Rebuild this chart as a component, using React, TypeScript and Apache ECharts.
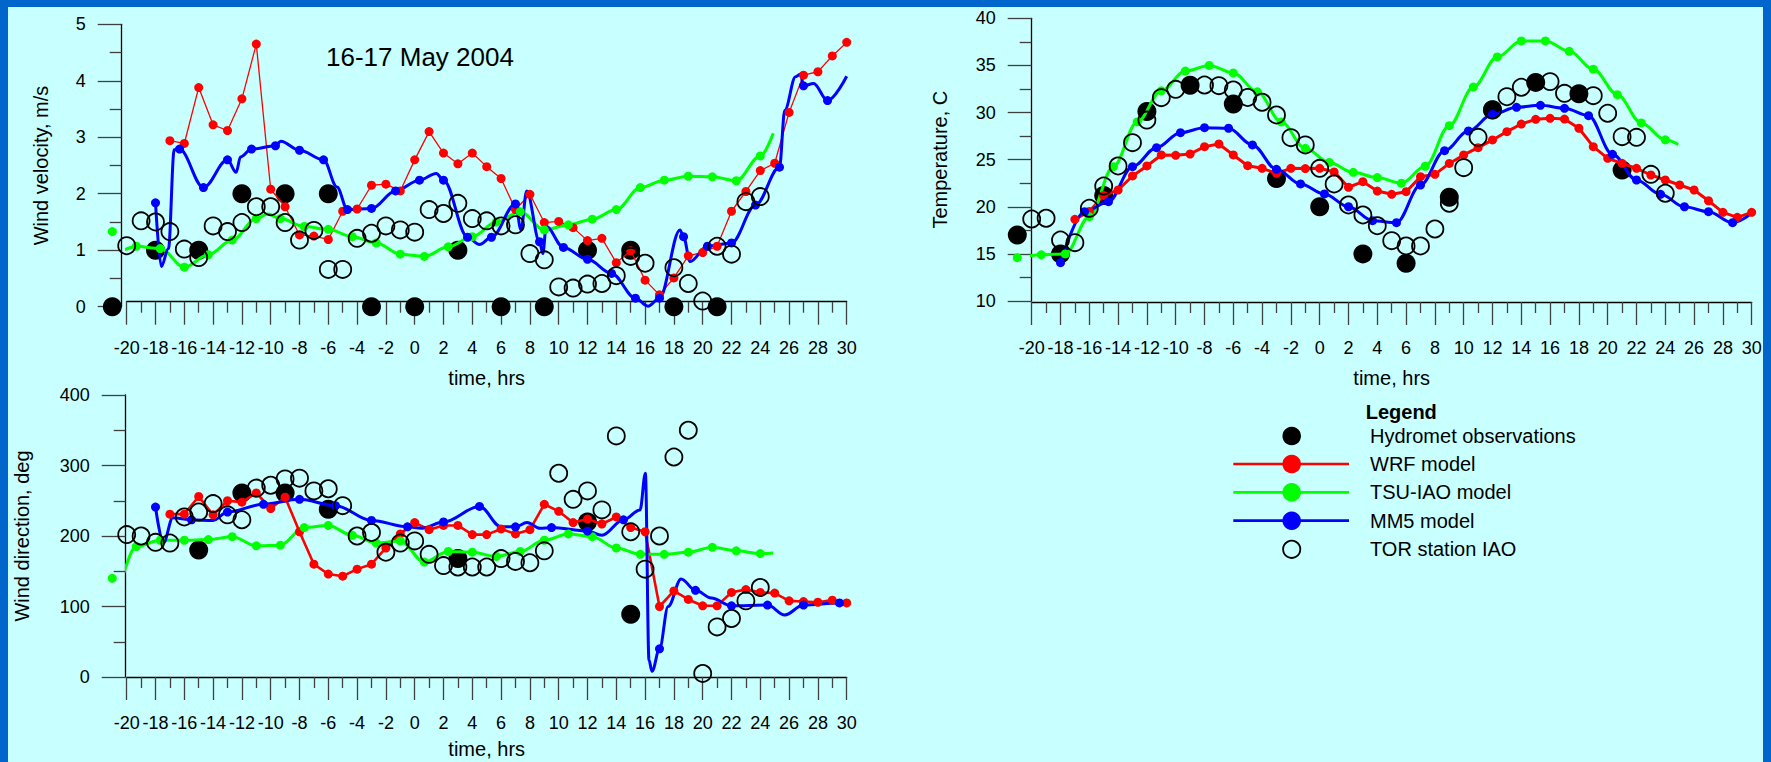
import React, { useEffect, useRef } from 'react';
import * as echarts from 'echarts';

// ---------------- Panel 1: wind velocity, m/s ----------------
const windHydromet = [[-21, 0], [-18, 1], [-15, 1], [-12, 2], [-9, 2], [-6, 2], [-3, 0], [0, 0], [3, 1], [6, 0], [9, 0], [12, 1], [15, 1], [18, 0], [21, 0]];
const windTor = [[-20, 1.08], [-19, 1.52], [-18, 1.5], [-17, 1.33], [-16, 1.02], [-15, 0.87], [-14, 1.43], [-13, 1.33], [-12, 1.49], [-11, 1.77], [-10, 1.77], [-9, 1.49], [-8, 1.18], [-7, 1.35], [-6, 0.66], [-5, 0.66], [-4, 1.21], [-3, 1.3], [-2, 1.43], [-1, 1.36], [0, 1.32], [1, 1.72], [2, 1.65], [3, 1.83], [4, 1.56], [5, 1.52], [6, 1.43], [7, 1.45], [8, 0.94], [9, 0.83], [10, 0.35], [11, 0.33], [12, 0.4], [13, 0.41], [14, 0.55], [15, 0.89], [16, 0.77], [18, 0.69], [19, 0.41], [20, 0.1], [21, 1.07], [22, 0.93], [23, 1.86], [24, 1.95]];
const windWrf = [[-17, 2.94], [-16, 2.89], [-15, 3.88], [-14, 3.22], [-13, 3.12], [-12, 3.68], [-11, 4.65], [-10, 2.08], [-9, 1.77], [-8, 1.27], [-7, 1.25], [-6, 1.19], [-5, 1.69], [-4, 1.73], [-3, 2.15], [-2, 2.17], [-1, 2.05], [0, 2.6], [1, 3.1], [2, 2.72], [3, 2.53], [4, 2.72], [5, 2.48], [6, 2.27], [7, 1.72], [8, 1.99], [9, 1.49], [10, 1.51], [11, 1.4], [12, 1.17], [13, 1.21], [14, 0.78], [15, 0.99], [16, 0.47], [17, 0.21], [18, 0.51], [19, 0.9], [20, 0.96], [21, 1.07], [22, 1.69], [23, 2.04], [24, 2.41], [25, 2.54], [26, 3.44], [27, 4.1], [28, 4.16], [29, 4.44], [30, 4.68]];
const windTsuMarked = [[-21, 1.33], [-19.33, 1.07], [-17.67, 1.03], [-16, 0.7], [-14.33, 0.92], [-12.67, 1.18], [-11, 1.56], [-9.33, 1.56], [-7.67, 1.42], [-6, 1.37], [-4.33, 1.24], [-2.67, 1.13], [-1, 0.93], [0.67, 0.89], [2.33, 1.06], [4, 1.24], [5.67, 1.5], [7.33, 1.68], [9, 1.36], [10.67, 1.45], [12.33, 1.55], [14, 1.72], [15.67, 2.11], [17.33, 2.24], [19, 2.31], [20.67, 2.3], [22.33, 2.23], [24, 2.67]];
const windTsuShape = [[-20.4, 1.0], [-10.2, 1.64], [24.9, 3.07]];
const windMm5Marked = [[-18, 1.84], [-16.33, 2.79], [-14.67, 2.11], [-13, 2.6], [-11.33, 2.79], [-9.67, 2.85], [-8, 2.77], [-6.33, 2.6], [-4.67, 1.72], [-3, 1.74], [-1.33, 2.05], [0.33, 2.24], [2, 2.24], [3.67, 1.23], [5.33, 1.23], [7, 1.82], [8.67, 1.15], [10.33, 1.05], [12, 0.84], [13.67, 0.59], [15.33, 0.15], [17, 0.15], [18.67, 1.24], [20.33, 1.07], [22, 1.13], [23.67, 1.8], [25.33, 2.47], [27, 3.91], [28.67, 3.65]];
const windMm5Shape = [[-17.6, 0.71], [-17.1, 1.03], [-16.7, 2.78], [-12.4, 2.38], [-12.1, 2.65], [-9.3, 2.93], [-5.4, 2.12], [1.5, 2.36], [4.5, 1.1], [7.38, 1.36], [7.78, 2.05], [8.9, 0.94], [9.13, 1.42], [16.2, 0.01], [18.42, 1.36], [19.12, 0.8], [25.7, 3.48], [26.45, 4.07], [26.8, 4.12], [27.7, 3.95], [30, 4.08]];

// ---------------- Panel 2: temperature, C ----------------
const tempHydromet = [[-21, 17], [-18, 15], [-15, 21.2], [-12, 30.1], [-9, 32.9], [-6, 30.9], [-3, 23], [0, 20], [3, 15], [6, 14], [9, 21], [12, 30.3], [15, 33.2], [18, 32], [21, 23.9]];
const tempTor = [[-20, 18.7], [-19, 18.78], [-18, 16.47], [-17, 16.19], [-16, 19.84], [-15, 22.2], [-14, 24.33], [-13, 26.8], [-12, 29.2], [-11, 31.58], [-10, 32.46], [-8, 32.92], [-7, 32.85], [-6, 32.39], [-5, 31.6], [-4, 31.09], [-3, 29.74], [-2, 27.33], [-1, 26.56], [0, 24.08], [1, 22.42], [2, 20.19], [3, 19.13], [4, 17.99], [5, 16.4], [6, 15.84], [7, 15.84], [8, 17.64], [9, 20.37], [10, 24.15], [11, 27.37], [12, 30.27], [13, 31.68], [14, 32.68], [16, 33.28], [17, 32.04], [19, 31.79], [20, 29.92], [21, 27.44], [22, 27.37], [23, 23.44], [24, 21.43]];
const tempWrf = [[-17, 18.67], [-16, 19.5], [-15, 21.2], [-14, 21.78], [-13, 23.27], [-12, 24.33], [-11, 25.5], [-10, 25.46], [-9, 25.6], [-8, 26.38], [-7, 26.66], [-6, 25.5], [-5, 24.36], [-4, 24.08], [-3, 23.55], [-2, 24.08], [-1, 24.05], [0, 24.08], [1, 23.7], [2, 22.07], [3, 22.66], [4, 21.67], [5, 21.32], [6, 21.6], [7, 23.19], [8, 23.44], [9, 24.6], [10, 25.5], [11, 26.27], [12, 27.09], [13, 27.97], [14, 28.78], [15, 29.28], [16, 29.39], [17, 29.31], [18, 28.33], [19, 26.38], [20, 25.14], [21, 24.61], [22, 24.08], [23, 23.37], [24, 22.84], [25, 22.31], [26, 21.78], [27, 20.64], [28, 19.41], [29, 18.88], [30, 19.41]];
const tempTsuMarked = [[-21, 14.6], [-19.33, 14.9], [-17.67, 15.0], [-16, 18.95], [-14.33, 24.25], [-12.67, 29.0], [-11, 32.3], [-9.33, 34.4], [-7.67, 35.0], [-6, 34.2], [-4.33, 32.2], [-2.67, 29.0], [-1, 26.2], [0.67, 24.7], [2.33, 23.65], [4, 23.1], [5.67, 22.5], [7.33, 24.3], [9, 28.6], [10.67, 32.7], [12.33, 35.9], [14, 37.6], [15.67, 37.6], [17.33, 36.5], [19, 34.6], [20.67, 31.9], [22.33, 28.9], [24, 27.1]];
const tempTsuShape = [[24.9, 26.6]];
const tempMm5Marked = [[-18, 14.07], [-16.33, 19.48], [-14.67, 20.54], [-13, 24.25], [-11.33, 26.27], [-9.67, 27.86], [-8, 28.39], [-6.33, 28.33], [-4.67, 26.56], [-3, 23.97], [-1.33, 22.42], [0.33, 21.36], [2, 20.0], [3.67, 18.52], [5.33, 18.31], [7, 22.31], [8.67, 25.95], [10.33, 28.04], [12, 29.81], [13.67, 30.55], [15.33, 30.77], [17, 30.45], [18.67, 29.67], [20.33, 25.57], [22, 22.84], [23.67, 21.32], [25.33, 20.0], [27, 19.48], [28.67, 18.31]];
const tempMm5Shape = [[30, 19.3]];

// ---------------- Panel 3: wind direction, deg ----------------
const dirHydromet = [[-15, 180], [-12, 261], [-9, 261], [-6, 238], [3, 168], [12, 220], [15, 89]];
const dirTor = [[-20, 202], [-19, 200], [-18, 191], [-17, 190], [-16, 227], [-15, 234], [-14, 246], [-13, 230], [-12, 223], [-11, 268], [-10, 272], [-9, 281], [-8, 282], [-7, 264], [-6, 267], [-5, 243], [-4, 200], [-3, 205], [-2, 177], [-1, 190], [0, 193], [1, 174], [2, 158], [3, 156], [4, 156], [5, 156], [6, 168], [7, 164], [8, 162], [9, 179], [10, 289], [11, 252], [12, 264], [13, 237], [14, 342], [15, 206], [16, 153], [17, 200], [18, 312], [19, 350], [20, 5], [21, 71], [22, 83], [23, 108], [24, 127]];
const dirWrf = [[-17, 231], [-16, 231], [-15, 256], [-14, 230], [-13, 250], [-12, 248], [-11, 261], [-10, 239], [-9, 255], [-8, 206], [-7, 160], [-6, 146], [-5, 143], [-4, 153], [-3, 160], [-2, 183], [-1, 203], [0, 219], [1, 209], [2, 215], [3, 215], [4, 202], [5, 202], [6, 210], [7, 203], [8, 209], [9, 245], [10, 235], [11, 219], [12, 224], [13, 217], [14, 227], [15, 212], [16, 206], [17, 100], [18, 122], [19, 110], [20, 101], [21, 101], [22, 120], [23, 124], [24, 120], [25, 119], [26, 108], [27, 107], [28, 106], [29, 109], [30, 105]];
const dirTsuMarked = [[-21, 140], [-19.33, 185], [-17.67, 194], [-16, 194], [-14.33, 195], [-12.67, 199], [-11, 186], [-9.33, 187], [-7.67, 212], [-6, 215], [-4.33, 201], [-2.67, 190], [-1, 193], [0.67, 163], [2.33, 178], [4, 177], [5.67, 171], [7.33, 178], [9, 194], [10.67, 203], [12.33, 199], [14, 183], [15.67, 174], [17.33, 174], [19, 177], [20.67, 184], [22.33, 179], [24, 175]];
const dirTsuShape = [[-20.75, 130], [24.9, 176]];
const dirMm5Marked = [[-18, 241], [-15.5, 223], [-13, 234], [-10.5, 245], [-8, 252], [-5.5, 243], [-3, 222], [-0.5, 213], [2, 220], [4.5, 242], [7, 213], [9.5, 212], [12, 207], [14.5, 223], [17, 40], [19.5, 123], [22, 101], [24.5, 102], [27, 102], [29.5, 105]];
const dirMm5Shape = [[-17.45, 190], [-16.8, 226], [-14, 222], [0.5, 211], [6, 213], [7.8, 219], [8.7, 211], [13, 201], [15.65, 237], [16.02, 289], [16.27, 24], [16.48, 8], [17.6, 100], [18.5, 139], [20.6, 112], [25.7, 88], [30, 105]];

// ---------------- Axes / legend text ----------------
const timeRange = [-20, 30];
const timeStep = 2;
const windRange = [0, 5, 1];
const tempRange = [10, 40, 5];
const dirRange = [0, 400, 100];
const legendNames = ['Hydromet observations', 'WRF model', 'TSU-IAO model', 'MM5 model', 'TOR station IAO'];
const legendColors = ['#000000', '#ff0000', '#00ff00', '#0000ff', '#000000'];
const chartTitle = '16-17 May 2004';

const FONT = '"Liberation Sans", Arial, Helvetica, sans-serif';
const RED = '#ff0000';
const GREEN = '#00ff00';
const BLUE = '#0000ff';

function modelData(marked: number[][], shape: number[][] = []) {
  const items: any[] = [
    ...marked.map((p) => ({ value: [p[0], p[1]] })),
    ...shape.map((p) => ({ value: [p[0], p[1]], symbol: 'none' })),
  ];
  items.sort((a, b) => a.value[0] - b.value[0]);
  return items;
}

function lineSeries(name: string, color: string, data: any[], idx: number, width: number, smooth: number | boolean) {
  return {
    type: 'line',
    name,
    xAxisIndex: idx,
    yAxisIndex: idx,
    data,
    symbol: 'circle',
    symbolSize: 9,
    showSymbol: true,
    showAllSymbol: true,
    smooth,
    smoothMonotone: 'x',
    clip: false,
    z: 3,
    lineStyle: { color, width },
    itemStyle: { color, opacity: 1 },
    emphasis: { disabled: true },
  };
}

function hydroSeries(data: number[][], idx: number) {
  return {
    type: 'scatter',
    name: legendNames[0],
    xAxisIndex: idx,
    yAxisIndex: idx,
    data,
    symbol: 'circle',
    symbolSize: 19,
    clip: false,
    z: 2,
    itemStyle: { color: '#000000', opacity: 1 },
    emphasis: { disabled: true },
  };
}

function torSeries(data: number[][], idx: number) {
  return {
    type: 'scatter',
    name: legendNames[4],
    xAxisIndex: idx,
    yAxisIndex: idx,
    data,
    symbol: 'circle',
    symbolSize: 17,
    clip: false,
    z: 5,
    itemStyle: { color: 'rgba(0,0,0,0)', borderColor: '#000000', borderWidth: 1.8, opacity: 1 },
    emphasis: { disabled: true },
  };
}

const axisLineStyle = { color: '#000000', width: 1.3 };
const tickStyle = { color: '#404040', width: 1.3 };

function xAxis(gridIndex: number, offset: number, nameGap: number) {
  return {
    type: 'value',
    gridIndex,
    min: timeRange[0],
    max: timeRange[1],
    interval: timeStep,
    offset,
    name: 'time, hrs',
    nameLocation: 'middle',
    nameGap,
    nameTextStyle: { fontSize: 20, color: '#000', fontFamily: FONT },
    axisLine: { show: true, onZero: false, lineStyle: axisLineStyle },
    axisTick: { show: true, length: 23, lineStyle: tickStyle },
    minorTick: { show: true, splitNumber: 2, length: 11, lineStyle: tickStyle },
    axisLabel: { fontSize: 18, color: '#000', margin: 37, fontFamily: FONT },
    splitLine: { show: false },
    minorSplitLine: { show: false },
  };
}

function yAxis(gridIndex: number, range: number[], name: string, nameGap: number, offset: number) {
  return {
    type: 'value',
    gridIndex,
    position: 'left',
    min: range[0],
    max: range[1],
    interval: range[2],
    offset,
    name,
    nameLocation: 'middle',
    nameGap,
    nameTextStyle: { fontSize: 20, color: '#000', fontFamily: FONT },
    axisLine: { show: true, onZero: false, lineStyle: axisLineStyle },
    axisTick: { show: true, length: 24, lineStyle: tickStyle },
    minorTick: { show: true, splitNumber: 2, length: 12, lineStyle: tickStyle },
    axisLabel: { fontSize: 18, color: '#000', margin: 36, fontFamily: FONT },
    splitLine: { show: false },
    minorSplitLine: { show: false },
  };
}

function legendGraphics() {
  const rowsY = [436, 464, 492.3, 520.7, 549.3];
  const els: any[] = [
    {
      type: 'text', x: 1365.7, y: 411.7, silent: true,
      style: { text: 'Legend', fontSize: 20, fontWeight: 'bold', fontFamily: FONT, fill: '#000', verticalAlign: 'middle', align: 'left' },
    },
  ];
  legendNames.forEach((name, i) => {
    const y = rowsY[i];
    const isLine = i >= 1 && i <= 3;
    if (isLine) {
      els.push({ type: 'line', silent: true, shape: { x1: 1233.3, y1: y, x2: 1349, y2: y }, style: { stroke: legendColors[i], lineWidth: 2.7 } });
    }
    if (i === 4) {
      els.push({ type: 'circle', silent: true, shape: { cx: 1291.7, cy: y, r: 8.6 }, style: { fill: 'none', stroke: '#000', lineWidth: 1.8 } });
    } else {
      els.push({ type: 'circle', silent: true, shape: { cx: 1291.7, cy: y, r: 9.3 }, style: { fill: legendColors[i] } });
    }
    els.push({
      type: 'text', x: 1370, y, silent: true,
      style: { text: name, fontSize: 20, fontFamily: FONT, fill: '#000', verticalAlign: 'middle', align: 'left' },
    });
  });
  return els;
}

export default function App() {
  const ref = useRef<HTMLDivElement>(null);

  useEffect(() => {
    if (!ref.current) return;
    document.body.style.margin = '0';
    const chart = echarts.init(ref.current, undefined, { renderer: 'svg' });
    const option: any = {
      animation: false,
      backgroundColor: '#c8ffff',
      tooltip: { show: false },
      grid: [
        { left: 126.7, top: 24.3, width: 720, height: 282.4 },
        { left: 1031.7, top: 18.3, width: 720, height: 282.7 },
        { left: 126.7, top: 395, width: 720, height: 282 },
      ],
      xAxis: [xAxis(0, -5, 66), xAxis(1, 1, 66), xAxis(2, 0, 62)],
      yAxis: [
        yAxis(0, windRange, 'Wind velocity, m/s', 71, 5),
        yAxis(1, tempRange, 'Temperature, C', 82, 0),
        yAxis(2, dirRange, 'Wind direction, deg', 94, 1),
      ],
      series: [
        hydroSeries(windHydromet, 0),
        lineSeries(legendNames[1], RED, modelData(windWrf), 0, 1.3, false),
        lineSeries(legendNames[2], GREEN, modelData(windTsuMarked, windTsuShape), 0, 3, 0.35),
        lineSeries(legendNames[3], BLUE, modelData(windMm5Marked, windMm5Shape), 0, 3, 0.35),
        torSeries(windTor, 0),

        hydroSeries(tempHydromet, 1),
        lineSeries(legendNames[1], RED, modelData(tempWrf), 1, 3, false),
        lineSeries(legendNames[2], GREEN, modelData(tempTsuMarked, tempTsuShape), 1, 3, 0.35),
        lineSeries(legendNames[3], BLUE, modelData(tempMm5Marked, tempMm5Shape), 1, 3, 0.35),
        torSeries(tempTor, 1),

        hydroSeries(dirHydromet, 2),
        lineSeries(legendNames[1], RED, modelData(dirWrf), 2, 2.6, false),
        lineSeries(legendNames[2], GREEN, modelData(dirTsuMarked, dirTsuShape), 2, 3, 0.35),
        lineSeries(legendNames[3], BLUE, modelData(dirMm5Marked, dirMm5Shape), 2, 3, 0.35),
        torSeries(dirTor, 2),
      ],
      graphic: [
        { type: 'rect', silent: true, z: 100, shape: { x: 0, y: 0, width: 1771, height: 7 }, style: { fill: '#0066cc' } },
        { type: 'rect', silent: true, z: 100, shape: { x: 0, y: 0, width: 8, height: 762 }, style: { fill: '#0066cc' } },
        { type: 'rect', silent: true, z: 100, shape: { x: 1763, y: 0, width: 8, height: 762 }, style: { fill: '#0066cc' } },
        {
          type: 'text', x: 326, y: 56.7, silent: true,
          style: { text: chartTitle, fontSize: 26, fontFamily: FONT, fill: '#000', verticalAlign: 'middle', align: 'left' },
        },
        ...legendGraphics(),
      ],
    };
    chart.setOption(option);
    return () => chart.dispose();
  }, []);

  return <div ref={ref} style={{ position: 'absolute', left: 0, top: 0, width: 1771, height: 762 }} />;
}
